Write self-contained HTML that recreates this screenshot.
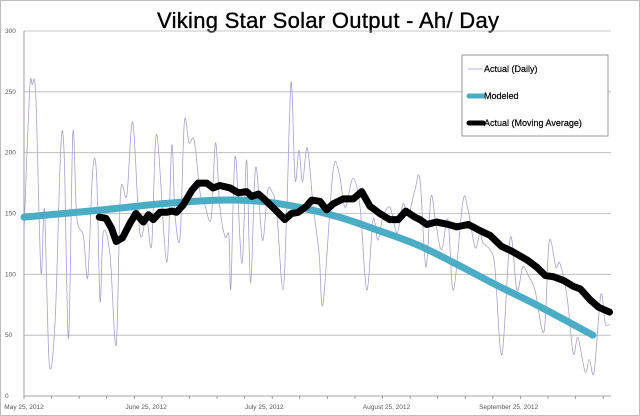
<!DOCTYPE html>
<html><head><meta charset="utf-8"><style>
body{margin:0;background:#fff;}
svg{display:block;font-family:"Liberation Sans",sans-serif;}
</style></head><body>
<svg id="chart" width="640" height="416" viewBox="0 0 640 416">
<rect x="0.5" y="0.5" width="639" height="415" fill="#fff" stroke="#bdbdbd"/>
<text x="328" y="28" text-anchor="middle" font-size="22" textLength="342" fill="#000" stroke="#000" stroke-width="0.35">Viking Star Solar Output -  Ah/ Day</text>
<g id="grid"></g>
<g id="axes"></g>
<g id="series"></g>
<g>
<rect x="462" y="55" width="146" height="81" fill="#fff" stroke="#808080" stroke-width="0.8"/>
<line x1="468" y1="69" x2="483" y2="69" stroke="#a99fd0" stroke-width="0.8"/>
<text x="484" y="72" font-size="9" fill="#000" stroke="#000" stroke-width="0.2">Actual (Daily)</text>
<line x1="469" y1="96" x2="483" y2="96" stroke="#4bacc6" stroke-width="5" stroke-linecap="round"/>
<text x="484" y="99" font-size="9" fill="#000" stroke="#000" stroke-width="0.2">Modeled</text>
<line x1="469" y1="123" x2="483" y2="123" stroke="#000" stroke-width="5" stroke-linecap="round"/>
<text x="484" y="126" font-size="9" fill="#000" stroke="#000" stroke-width="0.2">Actual (Moving Average)</text>
</g>
</svg>
<script>
const yTicks=[0,50,100,150,200,250,300];
const xTickDays=[0,31,61,92,123];
const xTickLabels=["May 25, 2012","June 25, 2012","July 25, 2012","August 25, 2012","September 25, 2012"];
const dailyDays=[0,1.4,2.1,3,4.3,5.2,6.4,7.9,9.3,10.2,11.3,12.4,13.4,15.1,16.2,17.4,18.4,19.3,20.1,21.8,23.4,24.5,26.1,27.6,29.4,31.1,32.4,33.7,36.2,37.5,38.3,39.6,40.7,41.9,43.2,44.7,45.9,47.5,48.6,49.7,51,52,52.5,53.6,55.3,56.5,57.5,58.8,60.5,61.8,62.9,64.1,65.7,66.7,67.8,68.8,69.8,70.7,71.9,73.4,74.9,75.9,78.4,80,81.5,83.5,85.3,87,88.6,89.8,91.1,92.9,94.7,96.2,97.5,99.2,100.5,102,103.3,104.5,106,107.6,109,111.4,112.7,114.5,115.7,116.5,118.3,119.5,121.3,123.4,125.1,126.6,128,129.7,132,133.3,135,136,137.8,139.4,140.6,142.4,143.5,144.7,146.4,147.5,148.7];
const dailyValues=[134,250,256,246,102,153,27,62,202,198,47,216,147,131,98,184,183,78,134,117,42,167,165,225,134,147,124,215,110,206,150,130,225,208,210,167,157,146,208,156,131,132,89,197,109,194,93,188,128,168,168,153,87,153,258,178,202,176,204,156,117,76,184,183,155,179,155,87,145,128,147,155,134,158,148,169,178,106,164,142,120,145,87,160,153,122,134,126,120,106,34,130,87,106,99,87,53,127,106,109,82,35,48,20,30,20,83,60,59];
const modeledDays=[0,20,35,50,60,70,80,90,100,110,120,130,144.4];
const modeledValues=[147,153,158,161,160,155,147,136,124,108,91,75,50];
const avgDays=[19.1,20.8,22.2,23.4,25,26.9,28.4,30.3,31.6,32.8,34.5,36.2,37.5,38.7,40.4,42.6,44.2,46.4,48,49.7,52.3,54.4,56.5,57.8,59.5,61.6,64.1,66.2,67.9,69.6,71.7,73,75.1,76.8,78.5,81,83.6,85.7,87.8,90.3,92.8,95,96.9,99.2,100.5,102.2,104.7,107.7,109.8,112.8,115.7,118.3,121.2,123.8,127.6,130.1,132.3,134.4,136.9,139.5,141.2,143.7,145.8,148.6];
const avgValues=[147,146,138,127,130,142,150,143,149,145,151,151,152,151,157,169,175,175,171,173,171,167,168,164,166,160,152,145,150,151,156,161,160,153,158,162,162,168,156,150,145,145,152,147,145,141,143,141,139,141,136,132,123,119,112,106,99,98,95,90,88,79,73,69];

const NS="http://www.w3.org/2000/svg";
const X0=24,X1=611,Y0=396,Y300=31;
function xs(d){return X0+d*3.94;}
function ys(v){return Y0-(v/300)*(Y0-Y300);}
function mk(tag,attrs,parent){const e=document.createElementNS(NS,tag);for(const k in attrs)e.setAttribute(k,attrs[k]);parent.appendChild(e);return e;}
const grid=document.getElementById('grid'),axes=document.getElementById('axes'),series=document.getElementById('series');
yTicks.forEach(v=>{
  if(v>0){const g=mk('line',{x1:X0,x2:X1,y1:ys(v),y2:ys(v),stroke:'#b4b4b4','stroke-width':0.8},grid);
  
  }
  const t=mk('text',{x:5,y:ys(v)+2,'font-size':6.5,fill:'#555'},axes);
  t.textContent=v;
  
  
});
const ax=mk('line',{x1:X0,x2:X1,y1:Y0,y2:Y0,stroke:'#888','stroke-width':0.8},axes);


const ay=mk('line',{x1:X0,x2:X0,y1:Y300,y2:Y0,stroke:'#888','stroke-width':0.8},axes);


for(let d=0;d<=149;d+=7){const tk=mk('line',{x1:xs(d),x2:xs(d),y1:Y0,y2:Y0+3,stroke:'#888','stroke-width':0.8},axes);
  
  }
xTickDays.forEach((d,i)=>{
  const t=mk('text',{x:xs(d),y:409,'font-size':6.5,fill:'#555','text-anchor':'middle'},axes);
  t.textContent=xTickLabels[i];
  
  
});
function smooth(ds,vs){
  const p=ds.map((d,i)=>[xs(d),ys(vs[i])]);let s='M'+p[0][0]+','+p[0][1];
  for(let i=0;i<p.length-1;i++){const a=p[i-1]||p[i],b=p[i],c=p[i+1],e=p[i+2]||c;
    s+=' C'+(b[0]+(c[0]-a[0])/6)+','+(b[1]+(c[1]-a[1])/6)+' '+(c[0]-(e[0]-b[0])/6)+','+(c[1]-(e[1]-b[1])/6)+' '+c[0]+','+c[1];}
  return s;}
function poly(ds,vs){return ds.map((d,i)=>(i?'L':'M')+xs(d)+','+ys(vs[i])).join(' ');}
const pd=mk('path',{d:smooth(dailyDays,dailyValues),fill:'none',stroke:'#a99fd0','stroke-width':0.8},series);


const pm=mk('path',{d:smooth(modeledDays,modeledValues),fill:'none',stroke:'#4bacc6','stroke-width':7,'stroke-linecap':'round'},series);


const pa=mk('path',{d:poly(avgDays,avgValues),fill:'none',stroke:'#000','stroke-width':7,'stroke-linejoin':'round','stroke-linecap':'round'},series);


</script>
</body></html>
